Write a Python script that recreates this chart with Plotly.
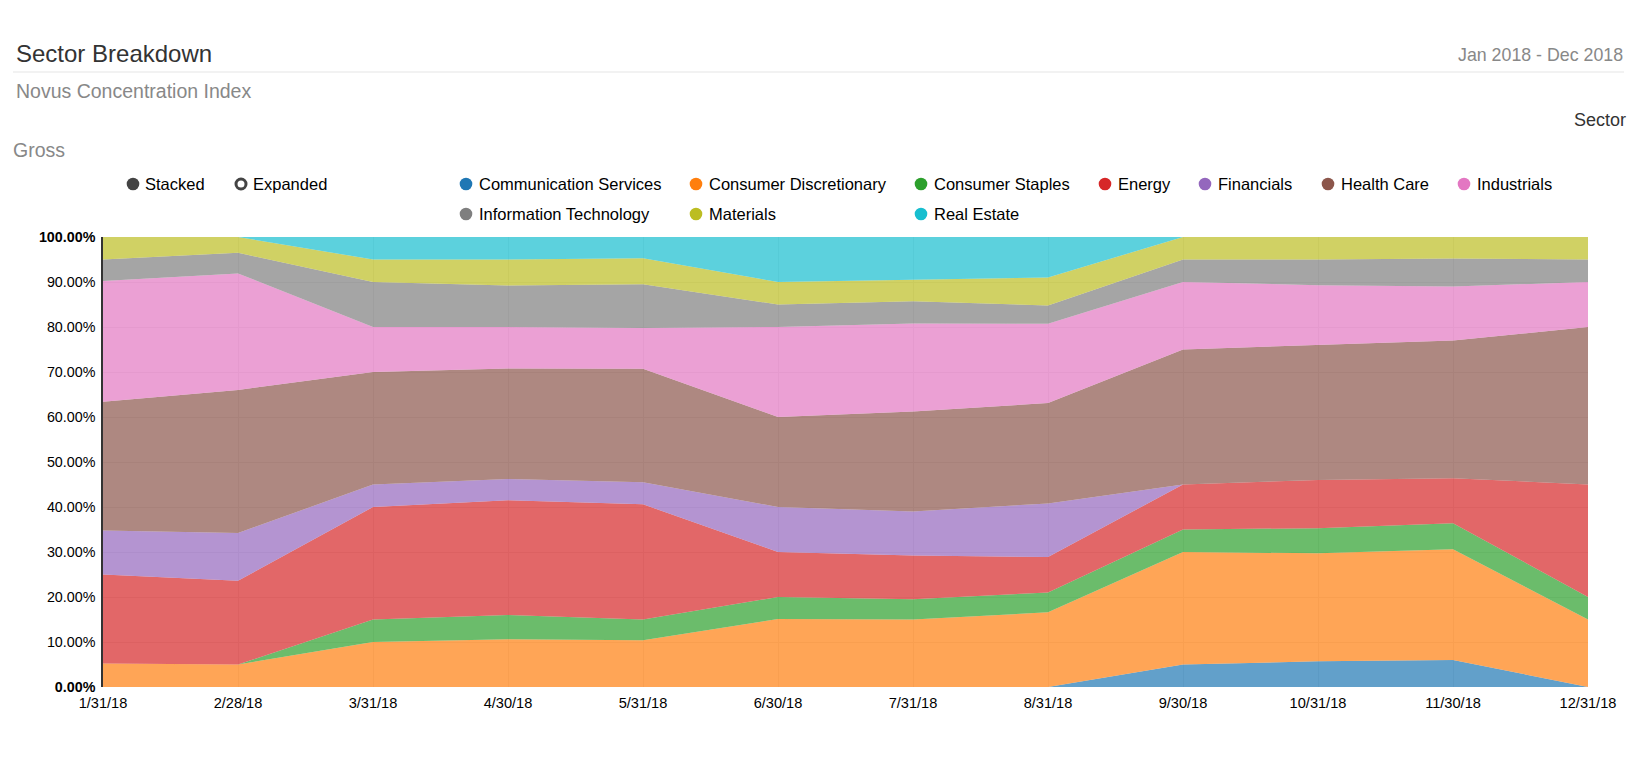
import plotly.graph_objects as go

months = ["1/31/18", "2/28/18", "3/31/18", "4/30/18", "5/31/18", "6/30/18",
          "7/31/18", "8/31/18", "9/30/18", "10/31/18", "11/30/18", "12/31/18"]

sectors = ["Communication Services", "Consumer Discretionary", "Consumer Staples",
           "Energy", "Financials", "Health Care", "Industrials",
           "Information Technology", "Materials", "Real Estate"]

communication = [0, 0, 0, 0, 0, 0, 0, 0, 5, 5.7, 6, 0]
discretionary = [5.2, 5, 10, 10.6, 10.4, 15.1, 15, 16.6, 25, 24, 24.6, 15]
staples = [0, 0, 5, 5.4, 4.6, 4.9, 4.5, 4.4, 5, 5.6, 5.8, 5]
energy = [19.8, 18.6, 25, 25.5, 25.6, 10, 9.7, 7.9, 10, 10.7, 10, 25]
financials = [9.8, 10.6, 5, 4.7, 4.9, 10, 9.8, 11.9, 0, 0, 0, 0]
health_care = [28.6, 31.8, 25, 24.6, 25.2, 20, 22.2, 22.3, 30, 30, 30.6, 35]
industrials = [26.8, 25.9, 10, 9.2, 9.1, 20, 19.6, 17.6, 15, 13.3, 12, 10]
info_tech = [4.8, 4.6, 10, 9.2, 9.7, 5, 4.9, 4.1, 5, 5.7, 6.2, 5]
materials = [5, 3.5, 5, 5.8, 5.8, 5, 4.8, 6.2, 5, 5, 4.8, 5]
real_estate = [0, 0, 5, 5, 4.7, 10, 9.5, 9, 0, 0, 0, 0]

series = [communication, discretionary, staples, energy, financials,
          health_care, industrials, info_tech, materials, real_estate]

colors = ["#1f77b4", "#ff7f0e", "#2ca02c", "#d62728", "#9467bd",
          "#8c564b", "#e377c2", "#7f7f7f", "#bcbd22", "#17becf"]

# the page body keeps its 8px margin
PAGE = 8
W, H = 1637 - 2 * PAGE, 774 - 2 * PAGE
FONT = "Liberation Sans"

# plot box, figure pixels
L, R, T, B = 95, 1580, 229, 679


# positions below are page pixels
def px(x):
    return (x - PAGE - L) / (R - L)


def py(y):
    return (B - (y - PAGE)) / (B - T)


def rgba(hex_color, alpha):
    r, g, b = (int(hex_color[i:i + 2], 16) for i in (1, 3, 5))
    return f"rgba({r},{g},{b},{alpha})"


def label(x, y, text, size=16.5, color="#000", anchor="left"):
    return dict(xref="paper", yref="paper", x=px(x), y=py(y), text=text,
                showarrow=False, xanchor=anchor, yanchor="middle",
                borderpad=0, borderwidth=0,
                font=dict(family=FONT, size=size, color=color))


def dot(x, y, fill, line="rgba(0,0,0,0)", r=6.3):
    return dict(type="circle", xref="paper", yref="paper",
                x0=px(x - r), x1=px(x + r), y0=py(y + r), y1=py(y - r),
                fillcolor=fill, line=dict(color=line, width=3 if fill == "white" else 0))


fig = go.Figure()

for name, values, color in zip(sectors, series, colors):
    fig.add_trace(go.Scatter(
        x=months,
        y=values,
        name=name,
        mode="lines",
        stackgroup="one",
        line=dict(width=0, color=color),
        fillcolor=rgba(color, 0.7),
        hovertemplate="%{y:.2f}%<extra>" + name + "</extra>",
    ))

# legend is laid out by hand, the original wraps in two rows
legend_x = [466, 696, 921, 1105, 1205, 1328, 1464, 466, 696, 921]
legend_y = [184] * 7 + [214] * 3

annotations = [
    label(15.5, 53, "Sector Breakdown", size=24, color="#333"),
    label(1623, 55, "Jan 2018 - Dec 2018", size=17.8, color="#888", anchor="right"),
    label(15.5, 91, "Novus Concentration Index", size=19.5, color="#888"),
    label(1626, 120, "Sector", size=18, color="#333", anchor="right"),
    label(12.5, 150, "Gross", size=19.5, color="#888"),
    label(145, 184, "Stacked"),
    label(253, 184, "Expanded"),
]
shapes = [
    dict(type="line", xref="paper", yref="paper", x0=px(13), x1=px(1624),
         y0=py(72), y1=py(72), line=dict(color="#eeeeee", width=1.5)),
    dot(133, 184, "#444444"),
    dot(241, 184, "white", line="#444444", r=5),
]
for name, color, x, y in zip(sectors, colors, legend_x, legend_y):
    shapes.append(dot(x, y, color))
    annotations.append(label(x + 13, y, name))

tick_vals = [0, 10, 20, 30, 40, 50, 60, 70, 80, 90, 100]
tick_text = [f"{v}.00%" for v in tick_vals]
tick_text[0] = "<b>0.00%</b>"
tick_text[-1] = "<b>100.00%</b>"

fig.update_layout(
    width=W,
    height=H,
    margin=dict(l=L, r=W - R, t=T, b=H - B, autoexpand=False),
    paper_bgcolor="white",
    plot_bgcolor="white",
    showlegend=False,
    font=dict(family=FONT, size=14.5, color="#000"),
    annotations=annotations,
    shapes=shapes,
    hovermode="x unified",
    xaxis=dict(
        type="category",
        range=[0, 11],
        tickmode="array",
        tickvals=months,
        ticktext=months,
        showgrid=True,
        gridcolor="#ececec",
        gridwidth=1,
        zeroline=False,
        showline=False,
        ticks="",
        ticklabelstandoff=5,
        tickfont=dict(size=14.6),
    ),
    yaxis=dict(
        range=[0, 100],
        tickmode="array",
        tickvals=tick_vals,
        ticktext=tick_text,
        showgrid=True,
        gridcolor="#ececec",
        gridwidth=1,
        zeroline=False,
        showline=True,
        linecolor="#333",
        linewidth=1.5,
        ticks="",
        ticklabelstandoff=3,
        tickfont=dict(size=14.3),
    ),
)

fig.write_html("out.html")
